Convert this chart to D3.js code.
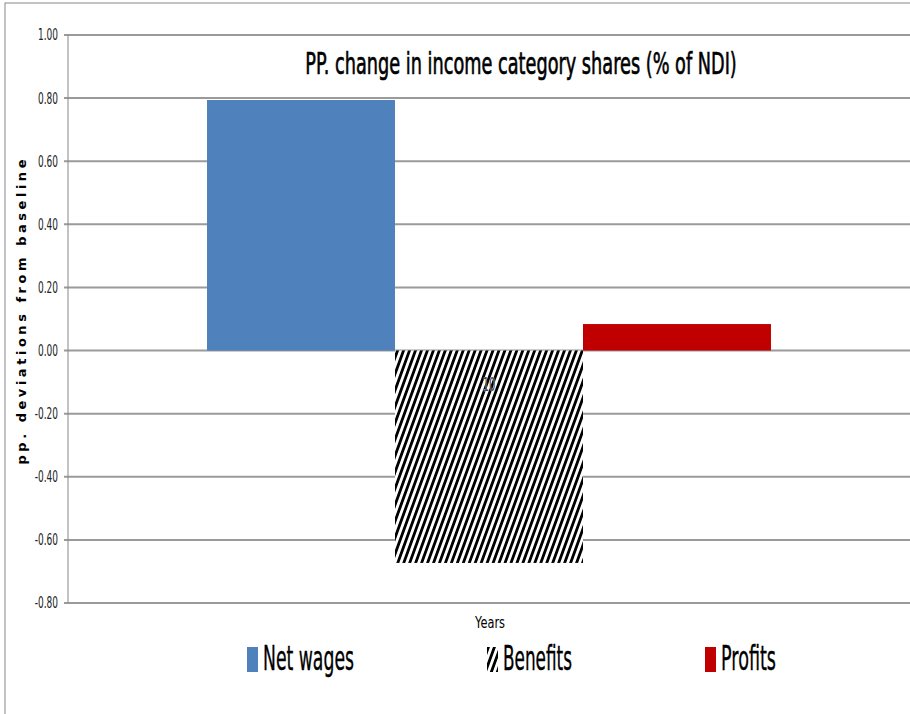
<!DOCTYPE html>
<html>
<head>
<meta charset="utf-8">
<script src="https://cdn.jsdelivr.net/npm/d3@7"></script>
<style>
  body { margin: 0; background: #fff; }
  svg { display: block; }
  text { font-family: "DejaVu Sans", sans-serif; }
</style>
</head>
<body>
<svg width="910" height="714"></svg>
<script>
// chart data
const categories = ["10"];
const seriesNames = ["Net wages", "Benefits", "Profits"];
const seriesValues = [0.794, -0.673, 0.084];
const seriesColors = ["#4F81BD", "url(#hatch)", "#C00000"];
const yTicks = [1.0, 0.8, 0.6, 0.4, 0.2, 0.0, -0.2, -0.4, -0.6, -0.8];

const margin = {top: 35, right: 0, bottom: 111, left: 68},
    width = 910 - margin.left - margin.right,
    height = 714 - margin.top - margin.bottom;

const svg = d3.select("svg");

// squeeze text horizontally, the original uses a narrow font
function narrow(sel, k) {
    sel.each(function () {
        const w = this.getComputedTextLength();
        d3.select(this).attr("textLength", w * k).attr("lengthAdjust", "spacingAndGlyphs");
    });
}

// hatch pattern for Benefits
const defs = svg.append("defs");
defs.append("pattern")
    .attr("id", "hatch")
    .attr("patternUnits", "userSpaceOnUse")
    .attr("width", 5.6).attr("height", 6)
    .attr("patternTransform", "rotate(20)")
    .call(p => {
        p.append("rect").attr("width", 5.6).attr("height", 6).attr("fill", "#fff");
        p.append("rect").attr("width", 2.8).attr("height", 6).attr("fill", "#000");
    });

// outer frame
svg.append("rect")
    .attr("x", 5).attr("y", 3)
    .attr("width", 920).attr("height", 730)
    .attr("fill", "none").attr("stroke", "#888").attr("stroke-width", 1);

const g = svg.append("g").attr("transform", `translate(${margin.left},${margin.top})`);

const y = d3.scaleLinear().domain([-0.8, 1.0]).range([height, 0]);
const x0 = d3.scaleBand().domain(categories).range([0, width]).paddingInner(0).paddingOuter(0.2465);
const x1 = d3.scaleBand().domain(seriesNames).range([0, x0.bandwidth()]);

// gridlines
g.append("g")
    .selectAll("line")
    .data(yTicks)
    .join("line")
    .attr("x1", -4).attr("x2", width)
    .attr("y1", d => y(d)).attr("y2", d => y(d))
    .attr("stroke", "#9a9a9a").attr("stroke-width", 2);

// tick labels
g.append("g")
    .selectAll("text")
    .data(yTicks)
    .join("text")
    .attr("x", -10).attr("y", d => y(d))
    .attr("dy", "0.36em")
    .attr("text-anchor", "end")
    .attr("font-size", 15)
    .attr("fill", "#222")
    .text(d => d3.format(".2f")(d).replace("−", "-"))
    .call(narrow, 0.6);

// bars
g.append("g")
    .selectAll("g")
    .data(categories)
    .join("g")
    .attr("transform", d => `translate(${x0(d)},0)`)
    .selectAll("rect")
    .data(seriesNames.map((s, i) => ({name: s, value: seriesValues[i], color: seriesColors[i]})))
    .join("rect")
    .attr("x", d => x1(d.name))
    .attr("width", x1.bandwidth())
    .attr("y", d => y(Math.max(0, d.value)))
    .attr("height", d => Math.abs(y(d.value) - y(0)))
    .attr("fill", d => d.color);

// y axis line
g.append("line")
    .attr("x1", 0).attr("x2", 0)
    .attr("y1", 0).attr("y2", height)
    .attr("stroke", "#888").attr("stroke-width", 1);

// category label sits just under the zero line
g.append("g")
    .selectAll("text")
    .data(categories)
    .join("text")
    .attr("x", d => x0(d) + x0.bandwidth() / 2)
    .attr("y", y(0) + 40)
    .attr("text-anchor", "middle")
    .attr("font-size", 20)
    .attr("fill", "#444")
    .attr("stroke", "#fff")
    .attr("stroke-width", 0.6)
    .attr("paint-order", "stroke")
    .text(d => d)
    .call(narrow, 0.5);

// title, squeezed with a transform so its box stays inside the page
svg.append("g")
    .attr("transform", "translate(521,74) scale(0.59,1)")
    .append("text")
    .attr("text-anchor", "middle")
    .attr("font-size", 30)
    .attr("fill", "#000")
    .attr("stroke", "#000")
    .attr("stroke-width", 0.7)
    .text("PP. change in income category shares (% of NDI)");

// y axis title
svg.append("text")
    .attr("transform", "translate(26,312) rotate(-90)")
    .attr("text-anchor", "middle")
    .attr("font-size", 13)
    .attr("font-weight", "bold")
    .attr("textLength", 305)
    .attr("lengthAdjust", "spacing")
    .text("pp.  deviations  from  baseline");

// x axis title
svg.append("text")
    .attr("x", 490).attr("y", 628)
    .attr("text-anchor", "middle")
    .attr("font-size", 15)
    .attr("fill", "#000")
    .attr("textLength", 30)
    .attr("lengthAdjust", "spacingAndGlyphs")
    .text("Years");

// legend
const legendX = [247, 487, 705];
const legendW = [91, 69, 55];
const legend = svg.append("g")
    .selectAll("g")
    .data(seriesNames)
    .join("g")
    .attr("transform", (d, i) => `translate(${legendX[i]},647)`);

legend.append("rect")
    .attr("width", 11).attr("height", 25)
    .attr("fill", (d, i) => seriesColors[i]);

legend.append("text")
    .attr("x", 16)
    .attr("y", 23)
    .attr("font-size", 33)
    .attr("fill", "#000")
    .attr("stroke", "#000")
    .attr("stroke-width", 0.4)
    .attr("textLength", (d, i) => legendW[i])
    .attr("lengthAdjust", "spacingAndGlyphs")
    .text(d => d);
</script>
</body>
</html>
